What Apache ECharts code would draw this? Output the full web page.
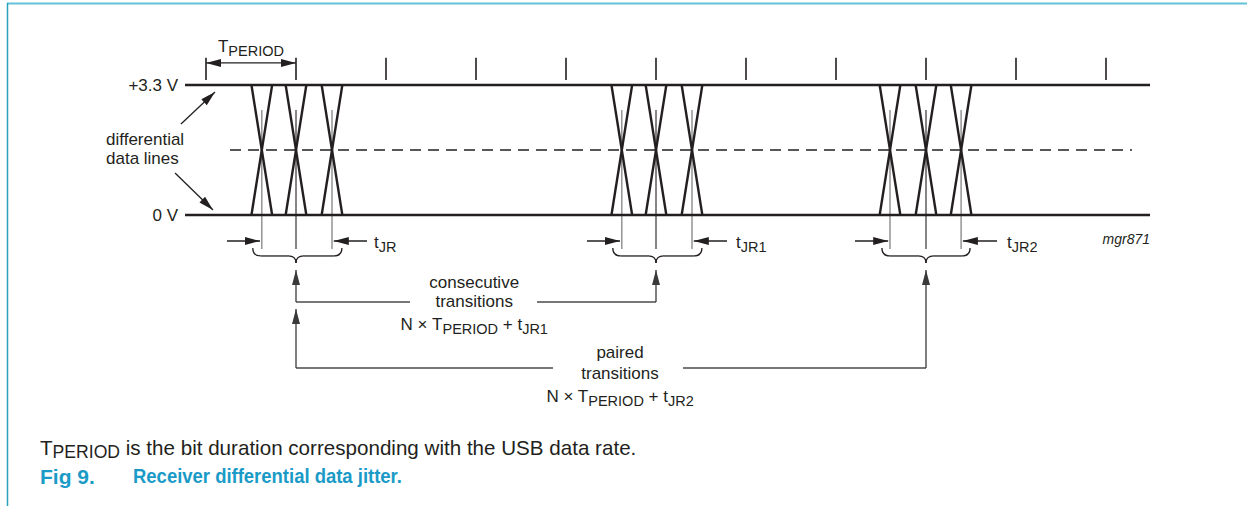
<!DOCTYPE html>
<html><head><meta charset="utf-8">
<script src="https://cdn.jsdelivr.net/npm/echarts@6/dist/echarts.min.js"></script>
<style>html,body{margin:0;padding:0;background:#fff}#c{width:1247px;height:506px}</style>
</head><body><div id="c"></div>
<script>
// ---- Diagram values: time in bit periods (T_PERIOD), level in volts ----
const bitTicks = [0, 1, 2, 3, 4, 5, 6, 7, 8, 9, 10];
const highLevel = 3.3;
const lowLevel = 0;
const threshold = 1.65;
const railSpan = [-0.233, 10.489];
const thresholdSpan = [0.267, 10.289];
const groupCrossings = [[0.62, 1.0, 1.4], [4.62, 5.0, 5.4], [7.6, 8.0, 8.39]];
const edgeHalfWidth = 0.115;
const braceSpans = [[0.52, 1.0, 1.51], [4.52, 5.0, 5.51], [7.51, 8.0, 8.49]];
const jitterTails = [[0.233, 1.789], [4.233, 5.789], [7.211, 8.789]];
const jitterNames = ['JR', 'JR1', 'JR2'];
const jitterLabelAt = [1.867, 5.889, 8.9];
const consecutivePair = [1.0, 5.0];
const pairedPair = [1.0, 8.0];
const consecutiveGap = [2.267, 3.678];
const pairedGap = [3.856, 5.3];
const consecutiveLabelAt = 2.98;
const pairedLabelAt = 4.6;
// annotation rows (volts, below/above the signal)
const rows = {
  tickLow: 3.43, tickHigh: 3.99, periodArrow: 3.86, periodLabel: 4.29,
  refTop: 2.665, refBottom: -0.863, jitter: -0.66, jitterLabel: -0.70,
  braceTop: -0.838, braceBar: -1.04, braceTip: -1.218, arrowTip: -1.396,
  consecLine: -2.208, pairedTip: -2.386, pairedLine: -3.884,
  consecText: [-1.701, -2.208, -2.767], pairedText: [-3.503, -4.011, -4.595]
};

// ---- layout ----
const W = 1247, H = 506;
const X0PX = 206, PX_PER_T = 90, Y_HIGH_PX = 85, Y_LOW_PX = 215;
const pxPerV = (Y_LOW_PX - Y_HIGH_PX) / highLevel;
const xMin = -X0PX / PX_PER_T, xMax = (W - X0PX) / PX_PER_T;
const yMax = highLevel + Y_HIGH_PX / pxPerV, yMin = -(H - Y_LOW_PX) / pxPerV;
const INK = '#231f20';
const FONT = "'Liberation Sans', Arial, sans-serif";
const LABEL_SIZE = 17, SUB_SIZE = 14.5, TEXT_SCALE_X = 1.0;
const rich = { s: { fontSize: SUB_SIZE, fontFamily: FONT, fill: INK, padding: [9, 0, 0, 0] } };

// ---- derived lists for the library ----
const allCrossings = [];
groupCrossings.forEach(g => g.forEach((c, i) => allCrossings.push([c, i === 1 ? 1 : 0])));

const arrows = []; // [x1,y1,x2,y2,doubleHead,kind]
arrows.push([0, rows.periodArrow, 1, rows.periodArrow, 1, 0]);
groupCrossings.forEach((g, i) => {
  arrows.push([jitterTails[i][0], rows.jitter, g[0] - 0.02, rows.jitter, 0, 0]);
  arrows.push([jitterTails[i][1], rows.jitter, g[2] + 0.02, rows.jitter, 0, 0]);
});
arrows.push([consecutivePair[0], rows.consecLine, consecutivePair[0], rows.arrowTip, 0, 1]);
arrows.push([consecutivePair[1], rows.consecLine, consecutivePair[1], rows.arrowTip, 0, 1]);
arrows.push([pairedPair[0], rows.pairedLine, pairedPair[0], rows.pairedTip, 0, 1]);
arrows.push([pairedPair[1], rows.pairedLine, pairedPair[1], rows.arrowTip, 0, 1]);
arrows.push([-0.278, 2.31, 0.1, 3.122, 0, 0]);
arrows.push([-0.344, 1.066, 0.078, 0.127, 0, 0]);

const connectors = [
  [consecutivePair[0], rows.consecLine, consecutiveGap[0], rows.consecLine],
  [consecutiveGap[1], rows.consecLine, consecutivePair[1], rows.consecLine],
  [pairedPair[0], rows.pairedLine, pairedGap[0], rows.pairedLine],
  [pairedGap[1], rows.pairedLine, pairedPair[1], rows.pairedLine]
];

const labels = [
  { at: [-0.311, 3.3], text: '+3.3 V', align: 'right' },
  { at: [-0.311, -0.02], text: '0 V', align: 'right' },
  { at: [-1.111, 1.917], text: 'differential', align: 'left' },
  { at: [-1.111, 1.434], text: 'data lines', align: 'left' },
  { at: [0.133, rows.periodLabel], text: 'T{s|PERIOD}', align: 'left' },
  { at: [10.489, -0.609], text: 'mgr871', align: 'right', italic: true, size: 14 },
  { at: [consecutiveLabelAt, rows.consecText[0]], text: 'consecutive', align: 'center' },
  { at: [consecutiveLabelAt, rows.consecText[1]], text: 'transitions', align: 'center' },
  { at: [consecutiveLabelAt, rows.consecText[2]], text: 'N \u00d7 T{s|PERIOD} + t{s|JR1}', align: 'center' },
  { at: [pairedLabelAt, rows.pairedText[0]], text: 'paired', align: 'center' },
  { at: [pairedLabelAt, rows.pairedText[1]], text: 'transitions', align: 'center' },
  { at: [pairedLabelAt, rows.pairedText[2]], text: 'N \u00d7 T{s|PERIOD} + t{s|JR2}', align: 'center' }
];
jitterNames.forEach((n, i) => labels.push({ at: [jitterLabelAt[i], rows.jitterLabel], text: 't{s|' + n + '}', align: 'left' }));

function seg(p1, p2, stroke, lw) {
  return { type: 'line', shape: { x1: p1[0], y1: p1[1], x2: p2[0], y2: p2[1] }, style: { stroke, lineWidth: lw } };
}
function head(tip, from, color) {
  const dx = tip[0] - from[0], dy = tip[1] - from[1];
  const len = Math.sqrt(dx * dx + dy * dy) || 1;
  const ux = dx / len, uy = dy / len, L = 15, Wd = 4;
  const bx = tip[0] - ux * L, by = tip[1] - uy * L;
  return { type: 'polygon', shape: { points: [tip, [bx - uy * Wd, by + ux * Wd], [bx + uy * Wd, by - ux * Wd]] }, style: { fill: color } };
}

const chart = echarts.init(document.getElementById('c'), null, { renderer: 'svg' });
chart.setOption({
  animation: false,
  grid: { left: 0, right: 0, top: 0, bottom: 0 },
  xAxis: { type: 'value', min: xMin, max: xMax, show: false },
  yAxis: { type: 'value', min: yMin, max: yMax, show: false },
  graphic: [
    { type: 'line', shape: { x1: 7, y1: 3.5, x2: W, y2: 3.5 }, style: { stroke: '#62c2d8', lineWidth: 2 } },
    { type: 'line', shape: { x1: 7.5, y1: 3, x2: 7.5, y2: H }, style: { stroke: '#27a3bb', lineWidth: 1.5 } },
    { type: 'text', x: 40, y: 447, style: { text: 'T{s|PERIOD} is the bit duration corresponding with the USB data rate.', fontSize: 20.6, fontFamily: FONT, fill: INK, verticalAlign: 'middle',
        rich: { s: { fontSize: 17.6, fontFamily: FONT, fill: INK, padding: [10, 0, 0, 0] } } } },
    { type: 'text', x: 40, y: 476, style: { text: 'Fig 9.', fontSize: 21, fontWeight: 'bold', fontFamily: FONT, fill: '#1a9bc7', verticalAlign: 'middle' } },
    { type: 'text', x: 133, y: 476, scaleX: 0.88, style: { text: 'Receiver differential data jitter.', fontSize: 21, fontWeight: 'bold', fontFamily: FONT, fill: '#1a9bc7', verticalAlign: 'middle' } }
  ],
  series: [
    { type: 'line', name: 'high', data: [[railSpan[0], highLevel], [railSpan[1], highLevel]], symbol: 'none', lineStyle: { color: INK, width: 2.6 } },
    { type: 'line', name: 'low', data: [[railSpan[0], lowLevel], [railSpan[1], lowLevel]], symbol: 'none', lineStyle: { color: INK, width: 2.6 } },
    { type: 'line', name: 'threshold', data: [[thresholdSpan[0], threshold], [thresholdSpan[1], threshold]], symbol: 'none', lineStyle: { color: INK, width: 1.4, type: [11, 7] } },
    { type: 'custom', name: 'ticks', data: bitTicks.map(t => [t]),
      renderItem: (p, api) => seg(api.coord([api.value(0), rows.tickLow]), api.coord([api.value(0), rows.tickHigh]), INK, 1.6) },
    { type: 'custom', name: 'references', data: allCrossings, z: 1,
      renderItem: (p, api) => {
        const c = api.value(0), center = api.value(1) === 1;
        return seg(api.coord([c, rows.refTop]), api.coord([c, rows.refBottom]), center ? INK : '#8c8c8c', center ? 1.1 : 1.4);
      } },
    { type: 'custom', name: 'transitions', data: allCrossings, z: 3,
      renderItem: (p, api) => {
        const c = api.value(0);
        return { type: 'group', children: [
          seg(api.coord([c - edgeHalfWidth, highLevel]), api.coord([c + edgeHalfWidth, lowLevel]), INK, 2.4),
          seg(api.coord([c - edgeHalfWidth, lowLevel]), api.coord([c + edgeHalfWidth, highLevel]), INK, 2.4)
        ] };
      } },
    { type: 'custom', name: 'connectors', data: connectors,
      renderItem: (p, api) => seg(api.coord([api.value(0), api.value(1)]), api.coord([api.value(2), api.value(3)]), '#4a4a4a', 1.3) },
    { type: 'custom', name: 'arrows', data: arrows,
      renderItem: (p, api) => {
        const a = api.coord([api.value(0), api.value(1)]), b = api.coord([api.value(2), api.value(3)]);
        const col = api.value(5) === 1 ? '#3a3a3a' : INK;
        const ch = [seg(a, b, col, 1.3), head(b, a, col)];
        if (api.value(4) === 1) ch.push(head(a, b, col));
        return { type: 'group', children: ch };
      } },
    { type: 'custom', name: 'braces', data: braceSpans,
      renderItem: (p, api) => {
        const L = api.coord([api.value(0), rows.braceTop]), C = api.coord([api.value(1), rows.braceTip]), R = api.coord([api.value(2), rows.braceTop]);
        const yB = api.coord([api.value(1), rows.braceBar])[1], r = 8, st = { stroke: INK, lineWidth: 1.3, fill: 'none' };
        const q = (x1, y1, cx, cy, x2, y2) => ({ type: 'bezierCurve', shape: { x1, y1, cpx1: cx, cpy1: cy, x2, y2 }, style: st });
        return { type: 'group', children: [
          q(L[0], L[1], L[0], yB, L[0] + r, yB),
          seg([L[0] + r, yB], [C[0] - r, yB], INK, 1.3),
          q(C[0] - r, yB, C[0], yB, C[0], C[1]),
          q(C[0] + r, yB, C[0], yB, C[0], C[1]),
          seg([C[0] + r, yB], [R[0] - r, yB], INK, 1.3),
          q(R[0] - r, yB, R[0], yB, R[0], R[1])
        ] };
      } },
    { type: 'custom', name: 'labels', data: labels.map(l => l.at),
      renderItem: (p, api) => {
        const l = labels[p.dataIndex];
        const pt = api.coord([api.value(0), api.value(1)]);
        return { type: 'text', x: pt[0], y: pt[1], scaleX: TEXT_SCALE_X,
          style: { text: l.text, fontSize: l.size || LABEL_SIZE, fontFamily: FONT, fontStyle: l.italic ? 'italic' : 'normal',
            fill: INK, align: l.align, verticalAlign: 'middle', rich } };
      } }
  ]
});
</script></body></html>
